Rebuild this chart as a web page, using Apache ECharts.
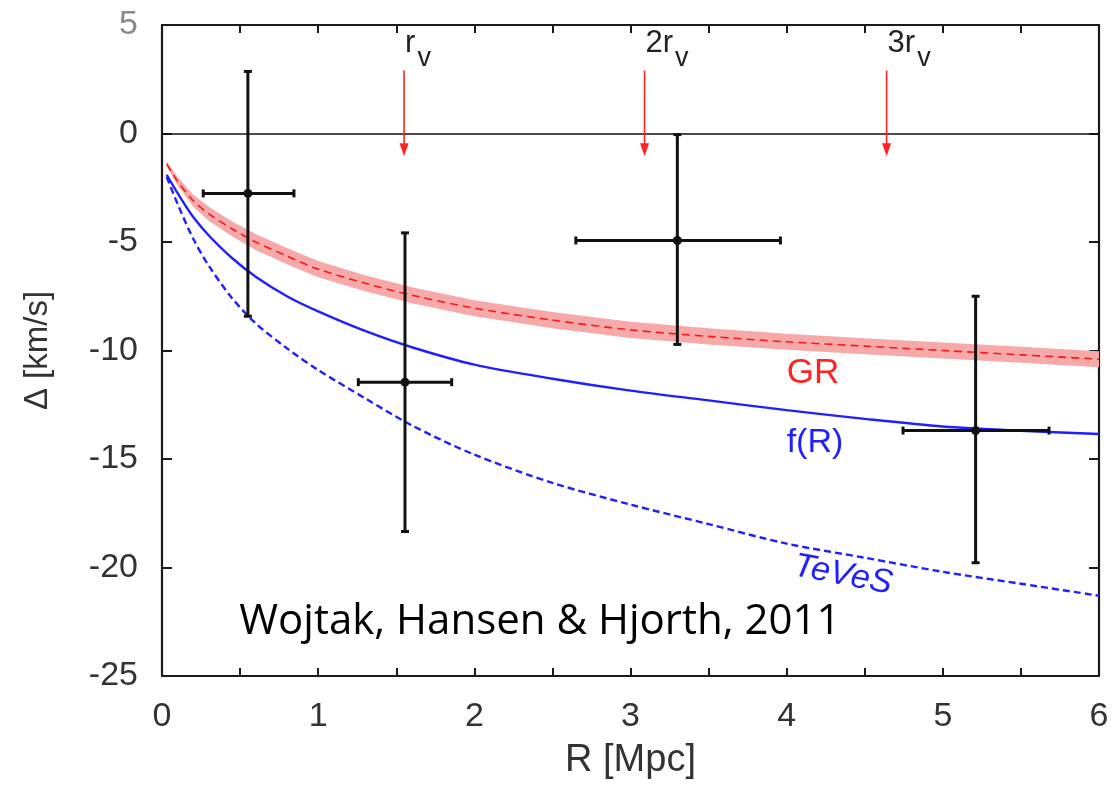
<!DOCTYPE html>
<html><head><meta charset="utf-8">
<script src="https://cdn.jsdelivr.net/npm/echarts@6/dist/echarts.min.js"></script>
<style>html,body{margin:0;padding:0;background:#fff}#c{width:1116px;height:786px}</style>
</head><body><div id="c"></div>
<script>
// ---- data ----
const curveX  = [0.03, 0.1, 0.2, 0.3, 0.45, 0.6, 0.8, 1.0, 1.3, 1.6, 2.0, 2.5, 3.0, 3.5, 4.0, 4.5, 5.0, 5.5, 6.0];
const grY     = [-1.4, -2.2, -3.1, -3.7, -4.4, -5.0, -5.65, -6.25, -6.9, -7.45, -8.05, -8.6, -9.05, -9.35, -9.6, -9.8, -10.0, -10.2, -10.4];
const grUpper = [-1.28, -2.0, -2.82, -3.38, -4.05, -4.63, -5.28, -5.88, -6.53, -7.08, -7.68, -8.23, -8.68, -8.98, -9.23, -9.43, -9.63, -9.83, -10.03];
const grLower = [-1.52, -2.4, -3.38, -4.02, -4.75, -5.37, -6.02, -6.62, -7.27, -7.82, -8.42, -8.97, -9.42, -9.72, -9.97, -10.17, -10.37, -10.57, -10.77];
const fRY     = [-1.9, -2.75, -3.85, -4.7, -5.75, -6.6, -7.5, -8.2, -9.1, -9.85, -10.65, -11.3, -11.85, -12.3, -12.75, -13.15, -13.5, -13.7, -13.85];
const tevesY  = [-2.0, -3.25, -4.85, -6.1, -7.6, -8.75, -9.9, -10.9, -12.2, -13.45, -14.8, -16.1, -17.1, -18.0, -18.9, -19.55, -20.2, -20.75, -21.3];

const ptX   = [0.55, 1.556, 3.30, 5.21];
const ptY   = [-2.76, -11.46, -4.93, -13.69];
const ptXLo = [0.264, 1.257, 2.65, 4.745];
const ptXHi = [0.845, 1.855, 3.96, 5.68];
const ptYLo = [-8.42, -18.34, -9.72, -19.78];
const ptYHi = [2.86, -4.58, -0.05, -7.5];

const rvX      = [1.55, 3.09, 4.64];
const rvLabels = ['r', '2r', '3r'];

const xTickLabels = ['0', '1', '2', '3', '4', '5', '6'];
const yTickLabels = ['5', '0', '-5', '-10', '-15', '-20', '-25'];

// ---- chart ----
const FONT = 'Liberation Sans, Arial, Helvetica, sans-serif';
const RED = '#ff2323';
const BLUE = '#1f1fff';
const chart = echarts.init(document.getElementById('c'), null, {renderer: 'canvas'});

const measureCtx = document.createElement('canvas').getContext('2d');
function textW(t, font) { measureCtx.font = font; return measureCtx.measureText(t).width; }

const axisLineStyle = {color: '#1a1a1a', width: 2.2};
const xAxisBase = {
  type: 'value', min: 0, max: 6, interval: 0.5,
  splitLine: {show: false},
  axisLine: {show: true, onZero: false, lineStyle: axisLineStyle},
  axisTick: {show: true, inside: true, length: 8, lineStyle: {color: '#1a1a1a', width: 2}}
};
const yAxisBase = {
  type: 'value', min: -25, max: 5, interval: 5,
  splitLine: {show: false},
  axisLine: {show: true, onZero: false, lineStyle: axisLineStyle},
  axisTick: {show: true, inside: true, length: 10, lineStyle: {color: '#1a1a1a', width: 2}}
};

const option = {
  animation: false,
  backgroundColor: '#fff',
  grid: {left: 162, right: 17, top: 25, bottom: 110, containLabel: false, outerBoundsMode: 'none'},
  xAxis: [
    Object.assign({}, xAxisBase, {
      position: 'bottom',
      name: 'R [Mpc]', nameLocation: 'middle', nameGap: 66,
      nameTextStyle: {fontSize: 38, fontFamily: FONT, color: '#333'},
      axisLabel: {
        fontSize: 34, fontFamily: FONT, color: '#333', margin: 24,
        formatter: v => (Math.abs(v - Math.round(v)) < 1e-9 ? xTickLabels[Math.round(v)] : '')
      }
    }),
    Object.assign({}, xAxisBase, {position: 'top', axisLabel: {show: false}})
  ],
  yAxis: [
    Object.assign({}, yAxisBase, {
      position: 'left',
      name: 'Δ [km/s]', nameLocation: 'middle', nameGap: 108,
      nameTextStyle: {fontSize: 33, fontFamily: FONT, color: '#333'},
      axisLabel: {
        fontSize: 34, fontFamily: FONT, color: '#333', margin: 24,
        formatter: v => {
          const idx = Math.round((5 - v) / 5);
          const t = yTickLabels[idx];
          return idx === 0 ? '{g|' + t + '}' : t;
        },
        rich: {g: {fontSize: 34, fontFamily: FONT, color: '#8a8a8a'}}
      }
    }),
    Object.assign({}, yAxisBase, {position: 'right', axisLabel: {show: false}})
  ],
  series: [
    // GR uncertainty band
    {
      type: 'custom', z: 1, silent: true,
      data: [[0, 0]],
      renderItem: (params, api) => {
        const pts = [];
        for (let i = 0; i < curveX.length; i++) pts.push(api.coord([curveX[i], grUpper[i]]));
        for (let i = curveX.length - 1; i >= 0; i--) pts.push(api.coord([curveX[i], grLower[i]]));
        return {type: 'polygon', shape: {points: pts}, style: {fill: '#f7a9a9', stroke: null}};
      }
    },
    // GR central line
    {
      type: 'line', z: 3, name: 'GR', showSymbol: false, smooth: 0.3,
      data: curveX.map((x, i) => [x, grY[i]]),
      lineStyle: {color: '#f01c1c', width: 1.6, type: [8, 5]},
      markLine: {
        silent: true, symbol: ['none', 'none'], label: {show: false},
        lineStyle: {color: '#111', width: 1.6, type: 'solid'},
        data: [{yAxis: 0}]
      }
    },
    // f(R)
    {
      type: 'line', z: 3, name: 'f(R)', showSymbol: false, smooth: 0.3,
      data: curveX.map((x, i) => [x, fRY[i]]),
      lineStyle: {color: BLUE, width: 2.4, type: 'solid'}
    },
    // TeVeS
    {
      type: 'line', z: 3, name: 'TeVeS', showSymbol: false, smooth: 0.3,
      data: curveX.map((x, i) => [x, tevesY[i]]),
      lineStyle: {color: BLUE, width: 2.4, type: [7, 4]}
    },
    // data points with error bars
    {
      type: 'custom', z: 5, silent: true,
      encode: {x: [0, 2, 3], y: [1, 4, 5]},
      data: ptX.map((x, i) => [x, ptY[i], ptXLo[i], ptXHi[i], ptYLo[i], ptYHi[i]]),
      renderItem: (params, api) => {
        const x = api.value(0), y = api.value(1);
        const c = api.coord([x, y]);
        const pL = api.coord([api.value(2), y]), pR = api.coord([api.value(3), y]);
        const pB = api.coord([x, api.value(4)]), pT = api.coord([x, api.value(5)]);
        const st = {stroke: '#111', lineWidth: 3};
        const cap = 4;
        const ln = (x1, y1, x2, y2) => ({type: 'line', shape: {x1, y1, x2, y2}, style: st});
        return {type: 'group', children: [
          ln(pL[0], pL[1], pR[0], pR[1]),
          ln(pT[0], pT[1], pB[0], pB[1]),
          ln(pL[0], pL[1] - cap, pL[0], pL[1] + cap),
          ln(pR[0], pR[1] - cap, pR[0], pR[1] + cap),
          ln(pT[0] - cap, pT[1], pT[0] + cap, pT[1]),
          ln(pB[0] - cap, pB[1], pB[0] + cap, pB[1]),
          {type: 'circle', shape: {cx: c[0], cy: c[1], r: 4.5}, style: {fill: '#111'}}
        ]};
      }
    },
    // virial radius arrows and labels
    {
      type: 'custom', z: 6, silent: true,
      encode: {x: 0},
      data: rvX.map((x, i) => [x, i]),
      renderItem: (params, api) => {
        const x = api.value(0);
        const i = params.dataIndex;
        const top = api.coord([x, 2.9]);
        const tip = api.coord([x, -1.05]);
        const headL = 13, headW = 4.5;
        const mainFont = '31px ' + FONT;
        const w = textW(rvLabels[i], mainFont);
        const lab = api.coord([x, 4.14]);
        return {type: 'group', children: [
          {type: 'line', shape: {x1: top[0], y1: top[1], x2: tip[0], y2: tip[1] - headL + 2}, style: {stroke: RED, lineWidth: 1.6}},
          {type: 'polygon', shape: {points: [[tip[0] - headW, tip[1] - headL], [tip[0] + headW, tip[1] - headL], [tip[0], tip[1]]]}, style: {fill: RED}},
          {type: 'text', x: lab[0] + 1, y: lab[1], style: {text: rvLabels[i], font: mainFont, fill: '#222', align: 'left', verticalAlign: 'middle'}},
          {type: 'text', x: lab[0] + 1 + w + 2, y: lab[1] + 15, style: {text: 'v', font: '27px ' + FONT, fill: '#222', align: 'left', verticalAlign: 'middle'}}
        ]};
      }
    },
    // curve labels and citation
    {
      type: 'custom', z: 7, silent: true,
      data: [[0, 0]],
      renderItem: (params, api) => {
        const g = api.coord([4.0, -11.05]);
        const f = api.coord([4.0, -14.25]);
        const t = api.coord([4.36, -20.35]);
        const w = api.coord([2.42, -22.5]);
        return {type: 'group', children: [
          {type: 'text', x: g[0], y: g[1], style: {text: 'GR', font: '35px ' + FONT, fill: RED, align: 'left', verticalAlign: 'middle'}},
          {type: 'text', x: f[0], y: f[1], style: {text: 'f(R)', font: '34px ' + FONT, fill: BLUE, align: 'left', verticalAlign: 'middle'}},
          {type: 'text', x: t[0], y: t[1], rotation: -0.19, style: {text: 'TeVeS', font: 'italic 34px ' + FONT, fill: BLUE, align: 'center', verticalAlign: 'middle'}},
          {type: 'text', x: w[0], y: w[1], style: {text: 'Wojtak, Hansen & Hjorth, 2011', font: '42px "Open Sans", sans-serif', fill: '#000', align: 'center', verticalAlign: 'middle'}}
        ]};
      }
    }
  ]
};
chart.setOption(option);
</script>
</body></html>
